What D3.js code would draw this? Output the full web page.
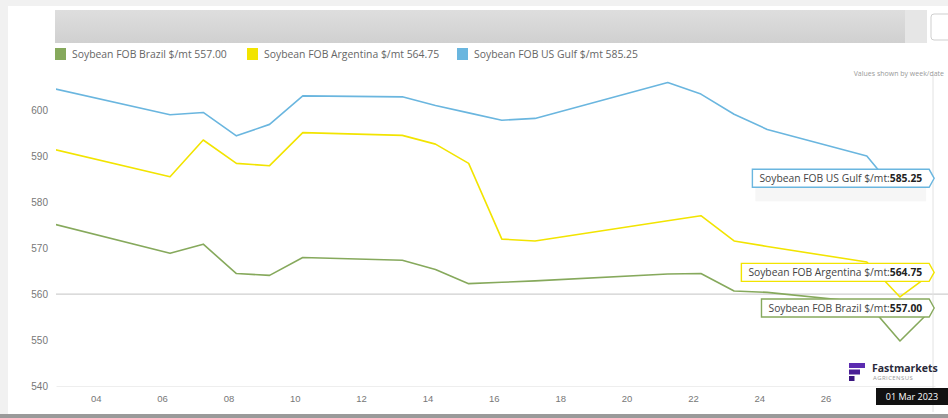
<!DOCTYPE html>
<html>
<head>
<meta charset="utf-8">
<script src="https://cdn.jsdelivr.net/npm/d3@7"></script>
<style>
  html, body { margin: 0; padding: 0; background: #ffffff; }
  svg { display: block; font-family: "Open Sans", "Noto Sans", sans-serif; }
</style>
</head>
<body>
<svg id="chart" width="948" height="418"></svg>
<script>
// Daily FOB soybean assessments, $/mt
const dates = ["2023-02-02","2023-02-06","2023-02-07","2023-02-08","2023-02-09","2023-02-10",
  "2023-02-13","2023-02-14","2023-02-15","2023-02-16","2023-02-17","2023-02-21","2023-02-22",
  "2023-02-23","2023-02-24","2023-02-27","2023-02-28","2023-03-01"];
const brazil    = [576.2,568.9,570.9,564.5,564.1,568.0,567.4,565.4,562.3,562.6,562.9,564.4,564.5,560.7,560.4,558.2,549.8,557.00];
const argentina = [592.4,585.6,593.6,588.5,588.0,595.2,594.6,592.7,588.5,572.0,571.6,576.0,577.1,571.6,570.4,567.0,559.4,564.75];
const usGulf    = [605.6,599.1,599.6,594.5,597.0,603.2,603.0,601.1,599.5,597.9,598.3,606.1,603.6,599.2,595.9,590.1,581.4,585.25];

const seriesNames = ["Soybean FOB Brazil $/mt", "Soybean FOB Argentina $/mt", "Soybean FOB US Gulf $/mt"];
const seriesColors = ["#86a95c", "#f2e400", "#6ab6df"];
const yTicks = [540, 550, 560, 570, 580, 590, 600];
const xTickDays = ["2023-02-04","2023-02-06","2023-02-08","2023-02-10","2023-02-12","2023-02-14",
  "2023-02-16","2023-02-18","2023-02-20","2023-02-22","2023-02-24","2023-02-26"];
const dateStamp = "01 Mar 2023";

const parse = d3.timeParse("%Y-%m-%d");
const series = [brazil, argentina, usGulf].map((vals, i) => ({
  name: seriesNames[i],
  color: seriesColors[i],
  points: vals.map((v, j) => ({ date: parse(dates[j]), value: v }))
}));

const svg = d3.select("#chart");
const W = 948, H = 418;
const plot = { left: 56, right: 935, top: 66, bottom: 390 };

// page frame
svg.append("rect").attr("width", W).attr("height", H).attr("fill", "#f1f1f1");
svg.append("rect").attr("x", 8).attr("y", 6).attr("width", W - 8).attr("height", H - 10).attr("fill", "#ffffff");
svg.append("rect").attr("x", 0).attr("y", 414).attr("width", W).attr("height", 4).attr("fill", "#9a9a9a");

// navigator band at the top
const defs = svg.append("defs");
const grad = defs.append("linearGradient").attr("id", "navGrad").attr("x1", 0).attr("x2", 0).attr("y1", 0).attr("y2", 1);
grad.append("stop").attr("offset", "0%").attr("stop-color", "#dedede");
grad.append("stop").attr("offset", "100%").attr("stop-color", "#d0d0d0");
svg.append("rect").attr("x", 55).attr("y", 10).attr("width", 850).attr("height", 33).attr("fill", "url(#navGrad)");
svg.append("rect").attr("x", 905).attr("y", 10).attr("width", 22).attr("height", 33).attr("fill", "#e6e6e6");
svg.append("rect").attr("x", 931).attr("y", 14).attr("width", 22).attr("height", 26).attr("rx", 3)
  .attr("fill", "#ffffff").attr("stroke", "#cfcfcf");

// scales
const x = d3.scaleTime()
  .domain([new Date(2023, 1, 2, 13, 30), new Date(2023, 2, 1, 1, 20)])
  .range([plot.left, plot.right]);
const y = d3.scaleLinear().domain([540, 600]).range([386, 110.6]);

// y axis labels
const yAxis = d3.axisLeft(y).tickValues(yTicks).tickSize(0).tickPadding(6).tickFormat(d3.format("d"));
const yg = svg.append("g").attr("transform", `translate(${plot.left - 2},0)`).call(yAxis);
yg.select(".domain").remove();
yg.selectAll("text").attr("fill", "#777").attr("font-size", 10);

// reference line at 560
svg.append("line").attr("x1", plot.left).attr("x2", W).attr("y1", y(560)).attr("y2", y(560))
  .attr("stroke", "#cfcfcf").attr("stroke-width", 1.2);

// x axis
const xAxis = d3.axisBottom(x).tickValues(xTickDays.map(parse)).tickSize(0).tickPadding(9)
  .tickFormat(d3.timeFormat("%d"));
const xg = svg.append("g").attr("transform", `translate(0,${y(540)})`).call(xAxis);
xg.select(".domain").attr("stroke", "#eeeeee");
xg.selectAll("text").attr("fill", "#777").attr("font-size", 9.5).attr("dx", -8);

// right edge of the plot
svg.append("line").attr("x1", 933).attr("x2", 933).attr("y1", 75).attr("y2", 412)
  .attr("stroke", "#e2e2e2");

// lines
defs.append("clipPath").attr("id", "plotClip").append("rect")
  .attr("x", plot.left).attr("y", plot.top).attr("width", plot.right - plot.left + 6).attr("height", plot.bottom - plot.top);
const line = d3.line().x(d => x(d.date)).y(d => y(d.value));
const lines = svg.append("g").attr("clip-path", "url(#plotClip)");
series.forEach(s => {
  lines.append("path").datum(s.points).attr("d", line)
    .attr("fill", "none").attr("stroke", s.color).attr("stroke-width", 1.6)
    .attr("stroke-linejoin", "round");
});

// legend
const legendX = [55, 247, 457];
series.forEach((s, i) => {
  const g = svg.append("g").attr("transform", `translate(${legendX[i]},48)`);
  g.append("rect").attr("width", 11).attr("height", 12).attr("fill", s.color);
  const last = s.points[s.points.length - 1].value;
  g.append("text").attr("x", 17).attr("y", 10).attr("font-size", 10.4).attr("fill", "#666")
    .text(`${s.name} ${last.toFixed(2)}`);
});
svg.append("text").attr("x", 944).attr("y", 76).attr("text-anchor", "end")
  .attr("font-size", 7).attr("fill", "#999").text("Values shown by week/date");

// end-of-series flags
series.forEach(s => {
  const p = s.points[s.points.length - 1];
  const tipX = x(p.date) + 1, tipY = y(p.value);
  const g = svg.append("g");
  const t = g.append("text").attr("y", tipY + 3.6).attr("font-size", 10.3).attr("fill", "#444");
  t.append("tspan").text(`${s.name}:`);
  t.append("tspan").attr("font-weight", "bold").attr("fill", "#222").text(p.value.toFixed(2));
  const tw = t.node().getComputedTextLength();
  const right = tipX - 5, left = right - tw - 14, top = tipY - 9, bottom = tipY + 9;
  t.attr("x", left + 7);
  if (s.name.includes("US Gulf")) {
    g.insert("rect", "text").attr("x", left + 3).attr("y", bottom).attr("width", right - left - 6).attr("height", 14)
      .attr("fill", "#f6f6f6");
  }
  g.insert("path", "text")
    .attr("d", `M${left},${top}H${right}L${tipX},${tipY}L${right},${bottom}H${left}Z`)
    .attr("fill", "#ffffff").attr("stroke", s.color).attr("stroke-width", 1.4);
});

// brand mark
const logo = svg.append("g").attr("transform", "translate(849,363)");
logo.append("rect").attr("x", 0).attr("y", 0).attr("width", 16).attr("height", 5).attr("fill", "#5b2bb0");
logo.append("rect").attr("x", 0).attr("y", 6.5).attr("width", 11).attr("height", 5).attr("fill", "#4a1f96");
logo.append("rect").attr("x", 0).attr("y", 13).attr("width", 5.5).attr("height", 5).attr("fill", "#3a1580");
svg.append("text").attr("x", 872).attr("y", 372).attr("font-size", 10.5).attr("font-weight", "bold")
  .attr("fill", "#2a2a3a").text("Fastmarkets");
svg.append("text").attr("x", 873).attr("y", 379.5).attr("font-size", 6).attr("fill", "#999")
  .attr("letter-spacing", 0.4).text("AGRICENSUS");

// date stamp
svg.append("rect").attr("x", 876).attr("y", 388).attr("width", 72).attr("height", 17).attr("fill", "#111");
svg.append("text").attr("x", 912).attr("y", 400).attr("text-anchor", "middle").attr("font-size", 9)
  .attr("fill", "#fff").text(dateStamp);
</script>
</body>
</html>
